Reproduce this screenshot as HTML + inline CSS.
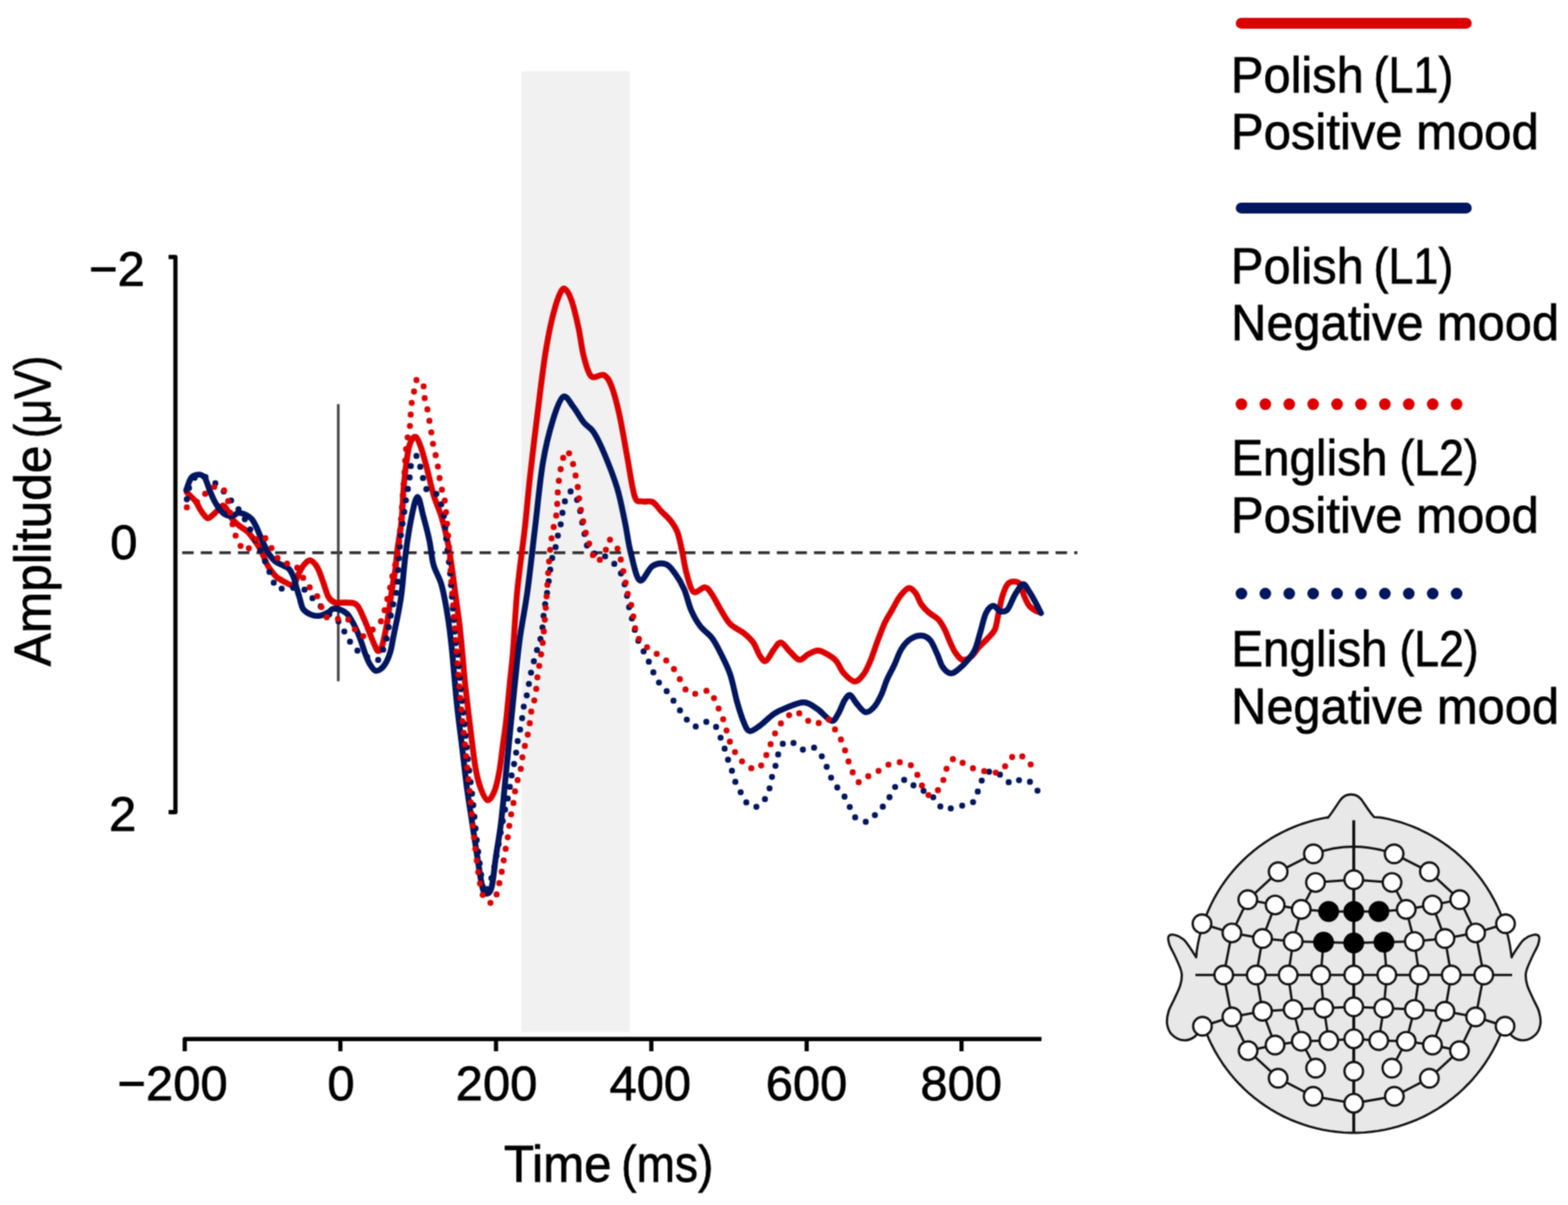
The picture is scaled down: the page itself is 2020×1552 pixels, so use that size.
<!DOCTYPE html>
<html><head><meta charset="utf-8"><title>ERP figure</title><style>html,body{margin:0;padding:0;background:#fff;}svg{display:block;}</style></head><body>
<svg width="2020" height="1552" viewBox="0 0 2020 1552">
<defs><filter id="soft" color-interpolation-filters="sRGB" filterUnits="userSpaceOnUse" x="0" y="0" width="2020" height="1552"><feConvolveMatrix order="3" kernelMatrix="1 2 1 2 4 2 1 2 1" divisor="16" edgeMode="duplicate"/></filter></defs>
<g filter="url(#soft)">
<rect width="2020" height="1552" fill="#fff"/>
<rect x="671.7" y="91.7" width="139.5" height="1237.5" fill="#f1f1f1"/>
<line x1="234.7" y1="711.8" x2="1388" y2="711.8" stroke="#333" stroke-width="3.7" stroke-dasharray="14.8 9.14"/>
<line x1="435.8" y1="520.5" x2="435.8" y2="877.5" stroke="#454545" stroke-width="3.4"/>
<path d="M217.2,331 H226 V1046 H217.2" fill="none" stroke="#000" stroke-width="5.4" stroke-linejoin="round"/>
<path d="M238,1354 V1338.2 H1341.7" fill="none" stroke="#000" stroke-width="5.4" stroke-linejoin="round"/>
<line x1="438.5" y1="1338.2" x2="438.5" y2="1354" stroke="#000" stroke-width="5.4"/>
<line x1="639.0" y1="1338.2" x2="639.0" y2="1354" stroke="#000" stroke-width="5.4"/>
<line x1="839.1" y1="1338.2" x2="839.1" y2="1354" stroke="#000" stroke-width="5.4"/>
<line x1="1039.2" y1="1338.2" x2="1039.2" y2="1354" stroke="#000" stroke-width="5.4"/>
<line x1="1238.7" y1="1338.2" x2="1238.7" y2="1354" stroke="#000" stroke-width="5.4"/>
<path d="M240.7,634.3 C241.6,635.2 244.1,637.5 246.0,639.5 C247.9,641.5 250.3,643.2 252.3,646.0 C254.3,648.8 256.2,653.4 258.1,656.5 C260.0,659.6 262.2,662.7 263.9,664.5 C265.6,666.3 266.8,667.7 268.5,667.5 C270.2,667.3 272.4,664.8 274.3,663.2 C276.2,661.6 277.5,660.0 279.7,658.0 C281.9,656.0 285.1,651.0 287.4,651.0 C289.7,651.0 291.6,655.1 293.5,658.0 C295.4,660.9 296.5,665.0 299.0,668.3 C301.5,671.5 305.4,674.8 308.7,677.5 C312.0,680.2 316.0,682.0 318.9,684.7 C321.8,687.4 323.5,689.9 326.1,693.5 C328.8,697.1 332.6,702.5 334.8,706.4 C337.1,710.3 338.1,713.3 339.6,716.7 C341.2,720.1 342.5,724.0 344.1,727.0 C345.7,730.0 347.2,732.2 349.3,735.0 C351.4,737.8 354.1,741.3 357.0,743.7 C359.9,746.1 363.8,747.9 366.7,749.5 C369.6,751.1 372.3,752.8 374.4,753.4 C376.4,754.0 377.2,755.6 379.0,753.0 C380.8,750.4 383.1,742.2 385.3,737.9 C387.5,733.6 389.6,729.7 392.0,727.0 C394.4,724.3 397.0,721.1 399.8,721.7 C402.6,722.3 406.1,726.2 408.8,730.7 C411.5,735.2 413.6,742.4 416.0,748.8 C418.4,755.2 420.6,764.5 423.2,769.0 C425.8,773.5 428.5,774.9 431.7,776.1 C434.9,777.3 438.5,776.0 442.6,776.1 C446.7,776.2 453.0,776.1 456.1,777.0 C459.2,777.9 459.7,779.0 461.5,781.5 C463.3,784.0 465.1,788.4 466.9,792.3 C468.7,796.2 470.5,800.5 472.3,805.0 C474.1,809.5 476.0,814.9 477.8,819.4 C479.6,823.9 481.7,828.9 483.2,832.1 C484.7,835.3 485.4,838.0 486.8,838.4 C488.2,838.8 490.0,837.7 491.3,834.8 C492.6,831.9 493.7,826.5 494.9,821.2 C496.1,815.9 497.4,809.2 498.5,803.2 C499.6,797.2 500.3,791.1 501.2,785.1 C502.1,779.1 503.0,773.1 503.9,767.1 C504.8,761.1 505.7,754.7 506.6,749.0 C507.5,743.3 508.5,740.0 509.4,733.0 C510.3,726.0 510.8,717.4 512.1,707.0 C513.4,696.6 516.0,683.7 517.3,670.9 C518.6,658.1 518.9,641.8 519.9,630.0 C520.9,618.2 521.7,609.5 523.0,600.0 C524.3,590.5 525.6,579.2 527.6,573.0 C529.6,566.8 532.7,561.8 535.3,562.7 C537.9,563.6 540.4,570.9 543.0,578.2 C545.6,585.5 548.2,596.6 550.8,606.5 C553.4,616.4 555.5,627.5 558.5,637.4 C561.5,647.3 565.8,655.9 568.8,665.8 C571.8,675.7 574.4,686.4 576.5,696.7 C578.6,707.0 580.0,716.0 581.7,727.6 C583.4,739.2 585.1,753.3 586.8,766.2 C588.5,779.1 590.5,791.8 592.0,804.9 C593.5,818.0 594.8,831.9 596.0,845.0 C597.2,858.1 597.8,868.2 599.5,883.8 C601.2,899.4 603.8,921.1 606.0,938.6 C608.2,956.1 610.4,976.2 612.6,989.0 C614.8,1001.8 616.6,1008.3 619.2,1015.3 C621.8,1022.2 625.1,1030.0 628.0,1030.7 C630.9,1031.4 634.2,1025.9 636.7,1019.7 C639.2,1013.5 641.5,1003.3 643.3,993.4 C645.1,983.5 646.2,971.5 647.7,960.5 C649.2,949.5 650.7,940.5 652.1,927.7 C653.5,914.9 655.0,898.4 656.4,883.8 C657.8,869.2 659.1,860.5 660.8,840.0 C662.5,819.5 663.8,787.7 666.4,760.8 C669.0,733.9 673.5,703.2 676.3,678.6 C679.0,654.0 680.2,637.5 682.9,612.9 C685.6,588.2 689.4,557.0 692.7,530.7 C696.0,504.4 699.3,476.0 702.6,455.2 C705.9,434.4 709.1,419.0 712.4,405.9 C715.7,392.8 719.5,381.8 722.3,376.3 C725.0,370.8 726.4,370.8 728.9,373.0 C731.4,375.2 734.4,381.2 737.1,389.4 C739.8,397.6 742.8,410.8 745.3,422.3 C747.8,433.8 749.2,448.0 751.9,458.4 C754.6,468.8 757.3,480.6 761.7,484.7 C766.1,488.8 773.8,480.9 778.2,483.1 C782.6,485.3 784.7,489.4 788.0,497.9 C791.3,506.4 794.6,519.2 797.9,534.0 C801.2,548.8 804.4,569.1 807.7,586.6 C811.0,604.1 814.3,629.3 817.6,639.2 C820.9,649.1 823.7,644.6 827.5,645.8 C831.3,647.0 836.5,644.4 840.6,646.5 C844.7,648.6 848.0,654.5 851.9,658.5 C855.8,662.5 860.2,665.9 863.7,670.4 C867.2,674.9 870.1,678.8 872.6,685.2 C875.1,691.6 876.5,700.0 878.5,708.9 C880.5,717.8 882.0,729.7 884.5,738.6 C887.0,747.5 889.4,759.3 893.4,762.3 C897.4,765.3 904.2,755.9 908.2,756.4 C912.2,756.9 913.7,760.4 917.1,765.3 C920.5,770.2 925.0,779.6 928.9,786.0 C932.8,792.4 935.8,798.8 940.8,803.8 C945.8,808.8 953.7,811.8 958.6,815.7 C963.5,819.7 967.0,822.6 970.4,827.5 C973.8,832.4 976.6,841.3 979.3,845.3 C982.0,849.2 983.8,852.7 986.8,851.2 C989.8,849.7 993.9,840.4 997.1,836.4 C1000.3,832.4 1002.5,827.0 1006.0,827.5 C1009.5,828.0 1013.9,835.7 1017.9,839.4 C1021.9,843.1 1025.8,849.3 1029.7,849.8 C1033.7,850.3 1037.6,844.4 1041.6,842.4 C1045.6,840.4 1049.5,837.9 1053.5,837.9 C1057.5,837.9 1061.3,840.2 1065.3,842.4 C1069.2,844.6 1073.6,847.1 1077.2,851.2 C1080.8,855.3 1083.0,862.6 1087.0,867.0 C1091.0,871.4 1096.7,877.5 1100.9,877.7 C1105.2,878.0 1109.0,873.1 1112.5,868.5 C1116.0,863.9 1118.7,857.2 1121.8,849.9 C1124.9,842.5 1127.9,832.5 1131.0,824.4 C1134.1,816.3 1137.2,807.8 1140.3,801.2 C1143.4,794.6 1146.5,790.4 1149.6,785.0 C1152.7,779.6 1155.4,773.3 1158.9,768.7 C1162.4,764.1 1167.0,758.3 1170.5,757.5 C1174.0,756.7 1177.0,760.7 1179.7,764.1 C1182.4,767.5 1184.0,774.0 1186.7,778.0 C1189.4,782.0 1192.3,785.1 1196.0,788.4 C1199.7,791.7 1205.2,794.0 1208.7,797.7 C1212.2,801.4 1214.4,805.7 1216.9,810.5 C1219.4,815.3 1221.5,821.7 1223.8,826.7 C1226.1,831.7 1228.1,836.7 1230.8,840.6 C1233.5,844.5 1236.5,849.1 1240.0,849.9 C1243.5,850.7 1248.2,848.0 1251.7,845.3 C1255.2,842.6 1257.4,837.6 1260.9,833.7 C1264.4,829.8 1269.0,826.0 1272.5,822.1 C1276.0,818.2 1279.5,815.9 1281.8,810.5 C1284.1,805.1 1284.9,796.6 1286.4,789.6 C1288.0,782.6 1289.2,774.9 1291.1,768.7 C1293.0,762.5 1295.5,755.8 1298.0,752.5 C1300.5,749.2 1303.5,749.0 1306.2,749.0 C1308.9,749.0 1312.2,749.6 1314.3,752.5 C1316.4,755.4 1317.0,761.8 1318.9,766.4 C1320.8,771.0 1323.2,776.8 1325.9,780.3 C1328.6,783.8 1332.9,785.9 1335.2,787.3 C1337.5,788.6 1339.0,788.2 1339.8,788.4" fill="none" stroke="#dc0000" stroke-width="7.6" stroke-linecap="round" stroke-linejoin="round"/>
<path d="M240.0,631.0 C241.1,628.4 243.8,618.4 246.5,615.1 C249.2,611.8 253.5,611.3 256.3,611.2 C259.1,611.1 261.6,612.8 263.3,614.6 C265.1,616.4 265.6,619.2 266.8,622.1 C268.0,625.0 268.9,628.4 270.3,632.0 C271.8,635.6 273.9,640.5 275.5,643.8 C277.1,647.0 278.6,649.4 279.9,651.5 C281.2,653.6 282.0,655.0 283.5,656.7 C285.0,658.4 286.7,660.6 288.7,661.9 C290.7,663.2 293.3,664.2 295.4,664.6 C297.4,665.0 299.0,664.7 301.0,664.0 C303.0,663.3 304.8,660.7 307.4,660.5 C310.0,660.3 313.6,661.7 316.4,663.0 C319.2,664.3 321.9,665.8 324.1,668.3 C326.4,670.8 328.0,674.1 329.9,678.0 C331.8,681.9 333.8,687.1 335.7,691.5 C337.6,695.9 339.6,700.2 341.5,704.1 C343.4,708.0 345.0,711.5 347.3,714.7 C349.6,717.9 352.2,721.1 355.1,723.4 C358.0,725.7 361.8,726.7 364.7,728.3 C367.6,729.9 370.2,730.5 372.5,733.1 C374.8,735.7 376.7,739.7 378.3,743.7 C379.9,747.7 380.8,752.9 382.1,757.3 C383.4,761.7 384.6,765.4 386.0,770.0 C387.4,774.6 388.2,781.1 390.8,784.8 C393.4,788.5 398.0,790.6 401.6,792.0 C405.2,793.4 408.8,793.6 412.4,793.0 C416.0,792.4 420.4,790.0 423.2,788.5 C426.0,787.0 426.5,784.8 429.0,784.2 C431.5,783.6 435.0,784.1 438.0,785.1 C441.0,786.1 444.4,787.8 447.1,790.5 C449.8,793.2 452.2,797.8 454.3,801.4 C456.4,805.0 457.9,808.2 459.7,812.2 C461.5,816.2 463.3,820.7 465.1,825.7 C466.9,830.7 468.7,837.2 470.5,842.0 C472.3,846.8 473.9,851.0 476.0,854.6 C478.1,858.2 480.8,862.4 483.2,863.6 C485.6,864.8 488.0,863.6 490.4,861.8 C492.8,860.0 495.5,856.5 497.6,852.8 C499.7,849.0 501.5,844.6 503.0,839.3 C504.5,834.0 505.4,827.2 506.6,821.2 C507.8,815.2 509.1,809.2 510.3,803.2 C511.5,797.2 512.7,791.9 513.9,785.1 C515.1,778.3 516.1,774.3 517.5,762.6 C518.9,750.9 520.3,730.8 522.4,714.7 C524.5,698.6 527.6,678.2 530.2,665.8 C532.8,653.3 535.3,640.0 537.9,640.0 C540.5,640.0 543.0,656.3 545.6,665.8 C548.2,675.2 551.1,686.4 553.3,696.7 C555.4,707.0 555.9,718.2 558.5,727.6 C561.1,737.0 565.8,742.7 568.8,753.4 C571.8,764.1 574.3,778.4 576.5,792.0 C578.7,805.6 580.0,816.0 582.0,835.0 C584.0,854.0 586.3,884.9 588.5,905.8 C590.7,926.7 592.9,942.2 595.1,960.5 C597.3,978.8 599.4,998.8 601.6,1015.3 C603.8,1031.8 606.0,1044.6 608.2,1059.2 C610.4,1073.8 612.6,1089.1 614.8,1103.0 C617.0,1116.9 619.4,1134.5 621.4,1142.5 C623.4,1150.5 624.8,1151.2 626.8,1151.2 C628.8,1151.2 631.4,1150.5 633.4,1142.5 C635.4,1134.5 636.9,1116.9 638.9,1103.0 C640.9,1089.1 643.3,1077.5 645.5,1059.2 C647.7,1040.9 649.9,1015.3 652.1,993.4 C654.3,971.5 656.6,947.8 658.6,927.7 C660.6,907.6 662.2,890.9 664.1,872.9 C666.0,854.9 667.4,838.7 670.0,820.0 C672.6,801.3 676.4,784.4 679.6,760.8 C682.8,737.2 686.1,706.0 689.4,678.6 C692.7,651.2 695.5,619.5 699.3,596.5 C703.1,573.5 708.0,554.9 712.4,540.6 C716.8,526.4 721.2,513.7 725.6,511.0 C730.0,508.3 734.3,518.7 738.7,524.2 C743.1,529.7 747.5,538.4 751.9,543.9 C756.3,549.4 760.4,549.9 765.0,557.0 C769.6,564.1 774.5,574.6 779.5,586.6 C784.5,598.6 791.0,615.1 795.3,629.3 C799.5,643.5 802.1,658.3 805.0,672.0 C807.9,685.7 809.3,698.9 812.5,711.5 C815.7,724.1 819.5,744.7 824.2,747.6 C828.9,750.5 835.0,732.5 840.6,729.0 C846.2,725.5 853.0,725.1 857.8,726.7 C862.6,728.3 865.6,733.2 869.6,738.6 C873.6,744.0 878.0,751.4 881.5,759.3 C885.0,767.2 886.9,778.1 890.4,786.0 C893.9,793.9 897.8,800.9 902.3,806.8 C906.8,812.7 912.7,815.7 917.1,821.6 C921.5,827.5 925.0,834.5 928.9,842.4 C932.8,850.3 937.3,858.6 940.8,869.0 C944.3,879.4 946.7,894.2 949.7,904.6 C952.7,915.0 955.9,925.1 958.6,931.3 C961.3,937.5 962.5,941.2 966.0,941.7 C969.5,942.2 974.1,938.0 979.3,934.3 C984.5,930.6 991.6,923.1 997.1,919.4 C1002.6,915.7 1005.6,914.5 1012.0,912.0 C1018.4,909.5 1028.8,904.4 1035.7,904.6 C1042.6,904.9 1047.6,909.5 1053.5,913.5 C1059.4,917.5 1066.8,927.4 1071.2,928.3 C1075.6,929.2 1077.2,923.4 1080.0,919.0 C1082.8,914.6 1085.5,906.0 1088.0,902.0 C1090.5,898.0 1092.6,894.5 1095.1,895.1 C1097.6,895.7 1099.9,901.9 1103.2,905.6 C1106.5,909.3 1110.9,916.4 1114.8,917.2 C1118.7,918.0 1122.9,914.1 1126.4,910.2 C1129.9,906.3 1133.0,899.8 1135.7,894.0 C1138.4,888.2 1139.9,881.6 1142.6,875.4 C1145.3,869.2 1148.8,863.5 1151.9,856.9 C1155.0,850.3 1157.7,841.6 1161.2,836.0 C1164.7,830.4 1168.5,826.1 1172.8,823.2 C1177.0,820.3 1182.5,818.4 1186.7,818.6 C1191.0,818.8 1194.8,820.4 1198.3,824.4 C1201.8,828.4 1204.9,837.1 1207.6,842.9 C1210.3,848.7 1211.6,855.1 1214.5,859.2 C1217.4,863.3 1221.5,866.9 1225.0,867.3 C1228.5,867.7 1231.7,864.4 1235.4,861.5 C1239.1,858.6 1243.5,854.1 1247.0,849.9 C1250.5,845.6 1253.6,842.2 1256.3,836.0 C1259.0,829.8 1261.0,820.5 1263.3,812.8 C1265.6,805.1 1267.5,795.0 1270.2,789.6 C1272.9,784.2 1276.4,780.7 1279.5,780.3 C1282.6,779.9 1285.7,786.5 1288.8,787.3 C1291.9,788.1 1294.9,788.5 1298.0,785.0 C1301.1,781.5 1304.0,771.8 1307.3,766.4 C1310.6,761.0 1314.7,753.3 1317.8,752.5 C1320.9,751.7 1323.0,757.5 1325.9,761.8 C1328.8,766.0 1332.7,773.4 1335.2,778.0 C1337.7,782.6 1340.0,787.7 1341.0,789.6" fill="none" stroke="#00165e" stroke-width="7.6" stroke-linecap="round" stroke-linejoin="round"/>
<path d="M240.7,643.0 C241.1,640.8 241.6,634.3 243.0,630.0 C244.4,625.7 246.5,619.9 249.0,617.0 C251.5,614.1 254.8,612.7 258.0,612.5 C261.2,612.3 264.6,614.2 268.0,616.0 C271.4,617.8 274.8,620.2 278.4,623.2 C282.0,626.2 285.9,630.4 289.4,634.3 C292.9,638.2 296.1,642.6 299.2,646.4 C302.3,650.2 305.1,652.9 308.0,657.0 C310.9,661.1 314.1,666.5 316.8,671.2 C319.5,675.9 321.6,680.2 324.0,685.0 C326.4,689.8 328.7,695.0 331.0,700.0 C333.3,705.0 335.8,710.0 338.0,715.0 C340.2,720.0 342.4,725.4 344.4,730.2 C346.4,735.0 348.1,739.0 350.2,743.7 C352.3,748.4 353.8,756.1 357.0,758.2 C360.2,760.3 365.7,756.4 369.6,756.3 C373.5,756.2 376.8,757.0 380.5,757.5 C384.2,758.0 388.1,757.1 391.8,759.2 C395.5,761.4 399.1,766.9 402.5,770.4 C405.9,773.9 408.8,776.9 412.4,780.3 C416.0,783.7 420.0,787.6 424.0,791.0 C428.0,794.4 432.8,796.5 436.2,800.5 C439.6,804.5 441.8,810.3 444.4,814.9 C447.0,819.5 449.1,823.9 452.0,828.0 C454.9,832.1 458.2,836.1 462.0,839.3 C465.8,842.5 470.7,845.3 475.0,847.0 C479.3,848.7 484.5,851.6 487.7,849.7 C490.9,847.8 492.2,840.6 494.0,835.7 C495.8,830.8 497.3,825.4 498.5,820.3 C499.7,815.2 500.3,810.0 501.2,805.0 C502.1,800.0 503.0,794.9 503.9,790.5 C504.8,786.1 505.5,783.0 506.6,778.8 C507.7,774.6 509.4,769.2 510.3,765.3 C511.2,761.4 511.7,760.3 512.1,755.3 C512.6,750.2 512.5,743.4 513.0,735.0 C513.5,726.6 514.3,713.3 515.0,705.0 C515.7,696.7 516.2,691.5 517.0,685.0 C517.8,678.5 519.0,672.0 519.9,665.8 C520.8,659.6 521.5,653.3 522.4,647.7 C523.2,642.1 524.1,637.4 525.0,632.3 C525.9,627.1 527.0,621.9 527.6,616.8 C528.2,611.6 527.4,606.3 528.9,601.4 C530.4,596.5 534.5,587.0 536.6,587.2 C538.8,587.4 540.3,597.6 541.8,602.7 C543.3,607.9 544.1,613.2 545.6,618.1 C547.1,623.0 548.0,629.3 550.8,632.3 C553.6,635.3 559.4,633.2 562.4,636.2 C565.4,639.2 567.1,644.9 568.8,650.3 C570.5,655.7 571.8,662.8 572.7,668.4 C573.6,674.0 573.6,678.9 574.0,683.8 C574.4,688.7 574.4,690.3 575.2,698.0 C576.1,705.7 578.2,722.3 579.1,730.2 C580.0,738.1 580.0,740.5 580.4,745.6 C580.8,750.8 581.3,755.5 581.7,761.1 C582.1,766.7 582.6,773.5 583.0,779.1 C583.4,784.7 583.9,789.5 584.3,794.6 C584.7,799.8 585.1,804.9 585.5,810.0 C585.9,815.1 586.1,820.4 586.8,825.5 C587.4,830.6 588.8,835.8 589.4,840.9 C590.0,846.0 590.1,849.9 590.7,856.4 C591.3,862.9 591.8,867.7 593.0,880.0 C594.2,892.3 596.3,913.3 598.0,930.0 C599.7,946.7 601.2,963.3 603.0,980.0 C604.8,996.7 607.2,1013.3 609.0,1030.0 C610.8,1046.7 612.3,1065.0 614.0,1080.0 C615.7,1095.0 617.4,1108.5 619.0,1120.0 C620.6,1131.5 621.8,1145.7 623.6,1149.0 C625.4,1152.3 627.9,1144.8 630.0,1140.0 C632.1,1135.2 634.1,1127.6 636.0,1120.0 C637.9,1112.4 639.3,1103.6 641.1,1094.2 C642.9,1084.8 645.1,1071.6 646.6,1063.6 C648.1,1055.6 648.8,1051.1 649.9,1046.0 C651.0,1040.9 652.1,1037.8 653.2,1032.9 C654.3,1028.0 655.5,1021.7 656.4,1016.4 C657.3,1011.1 657.7,1006.2 658.6,1001.1 C659.5,996.0 660.9,990.9 661.9,985.8 C662.9,980.7 663.9,975.7 664.8,970.4 C665.6,965.1 666.1,959.3 667.0,954.0 C667.9,948.7 669.2,943.7 670.2,938.6 C671.2,933.5 672.1,928.4 672.9,923.3 C673.7,918.2 674.0,913.1 675.1,907.9 C676.2,902.7 678.3,897.5 679.5,892.2 C680.7,886.9 681.1,881.5 682.1,876.2 C683.1,870.9 684.0,866.5 685.5,860.4 C687.0,854.3 689.1,846.9 691.1,839.6 C693.1,832.3 696.1,825.4 697.7,816.6 C699.3,807.9 699.8,795.3 700.9,787.1 C702.0,778.9 703.1,774.5 704.2,767.4 C705.3,760.3 706.4,752.1 707.5,744.4 C708.6,736.7 709.4,727.9 710.8,721.3 C712.2,714.7 714.3,710.4 715.7,704.9 C717.1,699.4 717.9,693.4 719.0,688.5 C720.1,683.6 721.3,680.2 722.3,675.3 C723.3,670.4 723.8,664.4 724.9,658.9 C726.0,653.4 726.9,646.9 728.9,642.5 C730.9,638.1 734.4,631.5 737.1,632.6 C739.8,633.7 743.4,643.5 745.3,649.0 C747.2,654.5 747.5,660.0 748.6,665.5 C749.7,671.0 750.8,676.4 751.9,681.9 C753.0,687.4 754.1,693.9 755.2,698.3 C756.3,702.7 756.5,705.7 758.4,708.2 C760.3,710.7 764.2,712.3 766.7,713.1 C769.2,713.9 770.8,712.3 773.2,713.1 C775.7,713.9 778.1,715.5 781.4,718.0 C784.7,720.5 789.6,723.9 793.0,727.9 C796.4,731.9 799.5,737.1 801.6,742.0 C803.7,746.9 804.5,752.3 805.7,757.5 C806.9,762.7 807.9,767.9 808.9,773.0 C809.9,778.1 810.4,782.9 811.6,788.0 C812.8,793.1 814.8,798.3 816.1,803.5 C817.5,808.7 818.0,814.0 819.7,819.0 C821.4,824.0 824.1,828.9 826.4,833.5 C828.6,838.1 831.2,842.6 833.2,846.7 C835.2,850.8 836.5,853.3 838.6,858.0 C840.7,862.7 843.0,870.2 845.9,875.0 C848.8,879.8 852.9,882.6 856.3,886.8 C859.7,891.0 863.0,895.8 866.1,900.2 C869.2,904.7 872.1,909.3 875.0,913.5 C877.9,917.7 880.3,921.7 883.6,925.4 C886.9,929.1 890.7,935.0 894.8,935.7 C898.9,936.4 904.0,930.3 908.2,929.8 C912.4,929.3 916.9,930.1 920.0,932.8 C923.1,935.5 924.5,941.4 926.6,946.1 C928.7,950.8 930.8,956.0 932.5,961.0 C934.2,966.0 935.4,970.9 937.0,975.8 C938.6,980.7 940.7,985.7 942.3,990.6 C943.9,995.5 944.7,1000.5 946.7,1005.4 C948.7,1010.3 951.6,1015.5 954.1,1020.2 C956.6,1024.9 958.5,1030.4 961.6,1033.6 C964.7,1036.8 969.0,1040.0 972.8,1039.5 C976.6,1039.0 981.3,1034.5 984.4,1030.6 C987.5,1026.6 989.5,1021.0 991.2,1015.8 C992.9,1010.6 993.4,1004.7 994.8,999.5 C996.2,994.3 998.1,989.7 999.5,984.7 C1000.9,979.8 1001.4,974.5 1003.1,969.8 C1004.8,965.1 1006.9,958.7 1009.9,956.5 C1012.9,954.3 1017.5,955.0 1021.4,956.5 C1025.3,958.0 1029.2,964.4 1033.6,965.4 C1037.9,966.4 1043.5,961.2 1047.5,962.4 C1051.5,963.6 1055.1,968.8 1057.9,972.8 C1060.7,976.8 1062.3,981.4 1064.4,986.1 C1066.5,990.8 1068.0,996.3 1070.4,1001.0 C1072.8,1005.7 1075.8,1010.1 1078.7,1014.3 C1081.7,1018.5 1085.4,1021.9 1088.1,1026.2 C1090.8,1030.5 1092.7,1035.5 1095.1,1040.1 C1097.5,1044.7 1099.0,1050.6 1102.7,1053.6 C1106.4,1056.6 1112.8,1059.1 1117.1,1058.2 C1121.4,1057.3 1125.0,1051.8 1128.7,1048.2 C1132.4,1044.6 1136.0,1040.6 1139.2,1036.6 C1142.4,1032.5 1144.9,1028.3 1147.7,1023.9 C1150.5,1019.5 1152.4,1013.3 1155.9,1010.0 C1159.4,1006.7 1164.8,1003.4 1168.8,1004.2 C1172.8,1005.0 1176.0,1011.9 1180.2,1014.6 C1184.4,1017.3 1189.5,1017.9 1193.7,1020.4 C1197.9,1022.9 1201.8,1026.1 1205.3,1029.7 C1208.8,1033.3 1211.1,1040.3 1215.0,1042.0 C1218.9,1043.7 1224.2,1041.0 1228.9,1040.1 C1233.6,1039.2 1238.8,1037.9 1243.1,1036.6 C1247.4,1035.2 1251.8,1035.3 1254.7,1032.0 C1257.6,1028.7 1258.6,1021.8 1260.5,1016.9 C1262.4,1012.0 1263.6,1006.5 1266.3,1002.5 C1269.0,998.5 1272.6,993.7 1276.7,993.2 C1280.8,992.7 1286.7,996.8 1291.1,999.5 C1295.5,1002.2 1298.8,1008.6 1303.1,1009.3 C1307.3,1010.0 1312.2,1003.6 1316.6,1003.5 C1321.0,1003.4 1325.7,1005.8 1329.4,1008.8 C1333.1,1011.8 1337.1,1019.5 1338.6,1021.6" fill="none" stroke="#00165e" stroke-width="7.8" stroke-linecap="round" stroke-dasharray="0 15"/>
<path d="M240.7,653.4 C242.1,652.8 245.7,652.0 249.0,650.0 C252.3,648.0 256.9,644.6 260.3,641.2 C263.7,637.9 265.7,632.3 269.6,629.9 C273.6,627.5 280.2,625.2 284.0,626.8 C287.8,628.3 290.2,633.7 292.3,639.2 C294.4,644.7 294.9,652.4 296.5,660.0 C298.1,667.6 300.0,678.1 301.9,684.7 C303.8,691.3 305.6,695.6 308.0,699.7 C310.4,703.8 313.3,709.6 316.3,709.5 C319.3,709.4 322.6,702.4 326.0,699.0 C329.4,695.6 333.4,689.2 336.9,689.4 C340.3,689.6 343.9,696.2 346.7,700.2 C349.5,704.2 351.0,709.5 353.9,713.6 C356.8,717.7 360.0,722.8 364.2,725.0 C368.4,727.2 375.0,724.6 379.0,727.1 C383.0,729.6 385.1,735.6 388.0,740.0 C390.9,744.4 393.0,749.1 396.2,753.3 C399.4,757.5 404.2,760.7 407.0,765.0 C409.8,769.3 410.9,774.2 413.0,779.0 C415.1,783.8 416.4,790.8 419.6,793.9 C422.8,797.0 427.7,797.6 432.0,797.8 C436.3,798.0 441.4,793.4 445.3,795.0 C449.2,796.6 451.9,803.6 455.2,807.7 C458.5,811.8 461.6,818.4 465.1,819.4 C468.6,820.4 471.9,816.9 476.0,814.0 C480.1,811.1 486.4,806.7 489.5,802.3 C492.6,797.9 493.4,792.6 494.9,787.8 C496.4,783.0 497.1,778.9 498.5,773.4 C499.9,767.9 501.6,761.4 503.0,755.0 C504.4,748.6 505.5,741.7 507.0,735.0 C508.5,728.3 510.6,724.5 512.1,714.7 C513.6,704.9 514.7,691.0 516.0,676.0 C517.3,661.0 518.6,641.8 519.9,624.6 C521.2,607.4 522.4,585.0 523.7,573.0 C525.0,561.0 526.7,558.4 527.6,552.4 C528.5,546.4 528.5,542.4 528.9,537.0 C529.3,531.6 529.5,525.6 530.2,520.2 C530.9,514.8 532.2,510.0 533.3,504.8 C534.4,499.6 535.3,491.8 536.6,489.3 C537.9,486.8 539.5,488.7 541.0,490.0 C542.5,491.3 544.6,493.0 545.6,497.0 C546.6,501.0 546.3,508.4 547.2,513.8 C548.1,519.2 550.0,524.1 551.1,529.2 C552.2,534.4 552.8,539.5 553.6,544.7 C554.5,549.9 555.4,555.1 556.2,560.2 C557.0,565.4 557.5,570.5 558.5,575.6 C559.5,580.8 561.3,586.0 562.4,591.1 C563.5,596.2 564.1,601.1 565.0,606.5 C565.9,611.9 566.4,617.9 567.5,623.3 C568.6,628.7 570.3,633.8 571.4,638.7 C572.5,643.6 572.7,640.7 574.0,652.9 C575.3,665.1 577.8,695.4 579.1,712.1 C580.4,728.9 580.6,737.9 581.7,753.4 C582.8,768.9 584.2,787.7 585.5,804.9 C586.8,822.1 588.0,838.9 589.4,856.4 C590.8,873.9 592.2,891.1 594.0,910.0 C595.8,928.9 598.0,950.0 600.0,970.0 C602.0,990.0 604.0,1010.0 606.0,1030.0 C608.0,1050.0 609.8,1071.2 612.0,1090.0 C614.2,1108.8 616.9,1131.0 619.2,1142.5 C621.5,1154.0 623.1,1155.6 625.8,1158.9 C628.5,1162.2 633.0,1164.2 635.6,1162.2 C638.2,1160.2 639.6,1151.9 641.1,1146.8 C642.6,1141.7 643.3,1136.7 644.4,1131.6 C645.5,1126.5 646.8,1121.1 647.7,1116.0 C648.6,1110.9 649.0,1106.1 649.9,1100.8 C650.8,1095.5 652.3,1089.7 653.2,1084.4 C654.1,1079.1 654.7,1074.1 655.4,1069.0 C656.1,1063.9 656.6,1058.8 657.5,1053.7 C658.4,1048.6 659.9,1043.7 660.8,1038.4 C661.7,1033.1 662.1,1027.3 663.0,1022.0 C663.9,1016.7 665.0,1011.7 666.3,1006.6 C667.6,1001.5 669.6,996.3 670.7,991.2 C671.8,986.1 672.0,981.0 672.9,975.9 C673.8,970.8 675.0,965.6 676.2,960.5 C677.4,955.4 679.0,950.3 680.1,945.2 C681.2,940.1 681.9,935.2 682.7,929.9 C683.5,924.6 683.8,918.7 684.9,913.4 C686.0,908.1 688.2,903.4 689.3,898.1 C690.4,892.8 690.9,886.9 691.5,881.6 C692.1,876.3 692.2,871.6 693.0,866.3 C693.8,861.0 694.8,857.4 696.0,849.7 C697.2,842.0 698.7,833.3 700.0,820.0 C701.3,806.7 702.8,786.5 704.0,770.0 C705.2,753.5 706.4,734.3 707.5,721.3 C708.6,708.3 709.7,699.4 710.8,691.8 C711.9,684.1 712.9,680.9 714.0,675.4 C715.1,669.9 716.7,664.4 717.4,658.9 C718.1,653.4 717.7,647.4 718.0,642.5 C718.3,637.6 718.5,634.2 719.0,629.3 C719.5,624.4 719.9,618.4 720.7,612.9 C721.5,607.4 722.8,601.7 724.0,596.5 C725.2,591.3 726.6,584.0 727.9,581.7 C729.2,579.5 730.6,581.9 732.0,583.0 C733.4,584.1 734.9,585.0 736.1,588.3 C737.3,591.6 738.2,597.8 739.4,603.0 C740.5,608.2 742.0,614.3 743.0,619.5 C744.0,624.7 744.6,629.4 745.3,634.3 C745.9,639.2 746.1,643.8 746.9,649.0 C747.7,654.2 749.1,660.0 750.2,665.5 C751.3,671.0 752.1,676.4 753.5,681.9 C754.9,687.4 755.9,691.4 758.4,698.3 C760.9,705.1 764.7,721.1 768.3,723.0 C771.9,724.9 777.1,714.5 779.8,709.8 C782.5,705.1 782.2,695.8 784.7,695.0 C787.2,694.2 792.1,700.8 794.6,704.9 C797.1,709.0 797.6,712.0 799.5,719.7 C801.4,727.4 804.5,743.0 806.1,750.9 C807.8,758.8 808.0,761.9 809.4,767.4 C810.8,772.9 812.7,776.1 814.3,783.8 C815.9,791.5 817.3,806.3 819.2,813.4 C821.1,820.5 822.8,822.7 825.8,826.5 C828.8,830.3 833.2,833.3 837.3,836.4 C841.4,839.5 846.4,842.0 850.5,845.0 C854.6,848.0 858.8,850.7 862.2,854.2 C865.6,857.7 868.4,861.9 871.1,866.1 C873.8,870.3 875.8,875.0 878.5,879.4 C881.2,883.8 883.7,890.6 887.4,892.8 C891.1,895.0 896.3,893.3 900.8,892.8 C905.2,892.3 910.6,888.1 914.1,889.8 C917.6,891.5 919.3,898.6 921.5,903.1 C923.7,907.6 925.5,911.8 927.5,916.5 C929.5,921.2 931.7,926.1 933.4,931.3 C935.1,936.5 936.2,942.4 937.8,947.6 C939.4,952.8 941.0,958.0 943.2,962.4 C945.4,966.8 948.1,970.3 951.2,974.3 C954.3,978.2 957.5,983.4 961.6,986.1 C965.7,988.8 972.0,991.8 975.8,990.6 C979.6,989.4 981.9,983.2 984.4,978.7 C986.9,974.2 988.6,968.8 990.6,963.9 C992.6,959.0 994.4,953.8 996.5,949.1 C998.6,944.4 1000.3,939.9 1003.1,935.7 C1005.9,931.5 1009.7,927.1 1013.4,923.9 C1017.1,920.7 1021.3,916.2 1025.3,916.5 C1029.3,916.8 1033.0,922.7 1037.2,925.4 C1041.4,928.1 1045.8,932.8 1050.5,932.8 C1055.2,932.8 1061.3,924.7 1065.3,925.4 C1069.2,926.1 1071.3,933.0 1074.2,937.2 C1077.1,941.4 1080.2,946.0 1082.5,950.6 C1084.8,955.2 1086.4,959.8 1088.1,964.7 C1089.8,969.6 1091.0,974.8 1092.8,979.8 C1094.5,984.8 1096.3,990.3 1098.6,994.9 C1100.9,999.5 1103.3,1006.8 1106.7,1007.6 C1110.1,1008.4 1114.8,1002.0 1119.0,999.5 C1123.2,997.0 1127.8,995.1 1132.2,992.6 C1136.6,990.1 1141.0,986.2 1145.6,984.4 C1150.2,982.6 1154.9,981.5 1159.6,981.7 C1164.2,981.9 1169.8,982.8 1173.5,985.6 C1177.2,988.4 1179.6,993.8 1182.1,998.4 C1184.6,1003.0 1185.9,1009.0 1188.6,1013.4 C1191.3,1017.8 1194.8,1024.5 1198.3,1025.0 C1201.8,1025.5 1206.4,1020.3 1209.4,1016.4 C1212.4,1012.5 1214.5,1006.7 1216.4,1001.8 C1218.3,996.9 1218.4,991.0 1220.8,986.8 C1223.2,982.5 1227.0,976.6 1230.8,976.3 C1234.6,976.0 1239.0,982.5 1243.5,984.9 C1248.0,987.3 1252.7,989.4 1257.5,990.9 C1262.3,992.4 1267.3,993.1 1272.1,993.7 C1276.9,994.3 1282.1,996.1 1286.4,994.4 C1290.7,992.7 1294.4,987.1 1298.0,983.3 C1301.6,979.5 1304.1,972.9 1307.8,971.7 C1311.5,970.5 1316.3,973.6 1320.1,976.3 C1323.9,979.0 1328.3,985.5 1330.5,987.9 C1332.7,990.3 1332.6,990.1 1333.0,990.5" fill="none" stroke="#dc0000" stroke-width="7.8" stroke-linecap="round" stroke-dasharray="0 15"/>
<text x="114.8" y="368.4" font-size="63.0" text-anchor="start" font-family="'Liberation Sans', Arial, Helvetica, sans-serif" fill="#000" stroke="#000" stroke-width="0.9" >−2</text>
<text x="141.9" y="720.0" font-size="63.0" text-anchor="start" font-family="'Liberation Sans', Arial, Helvetica, sans-serif" fill="#000" stroke="#000" stroke-width="0.9" >0</text>
<text x="140.4" y="1070.4" font-size="63.0" text-anchor="start" font-family="'Liberation Sans', Arial, Helvetica, sans-serif" fill="#000" stroke="#000" stroke-width="0.9" >2</text>
<text x="151.3" y="1416.6" font-size="63.0" text-anchor="start" font-family="'Liberation Sans', Arial, Helvetica, sans-serif" fill="#000" stroke="#000" stroke-width="0.9" >−200</text>
<text x="421.8" y="1416.6" font-size="63.0" text-anchor="start" font-family="'Liberation Sans', Arial, Helvetica, sans-serif" fill="#000" stroke="#000" stroke-width="0.9" >0</text>
<text x="587.1" y="1416.6" font-size="63.0" text-anchor="start" font-family="'Liberation Sans', Arial, Helvetica, sans-serif" fill="#000" stroke="#000" stroke-width="0.9" >200</text>
<text x="785.3" y="1416.6" font-size="63.0" text-anchor="start" font-family="'Liberation Sans', Arial, Helvetica, sans-serif" fill="#000" stroke="#000" stroke-width="0.9" >400</text>
<text x="986.4" y="1416.6" font-size="63.0" text-anchor="start" font-family="'Liberation Sans', Arial, Helvetica, sans-serif" fill="#000" stroke="#000" stroke-width="0.9" >600</text>
<text x="1185.8" y="1416.6" font-size="63.0" text-anchor="start" font-family="'Liberation Sans', Arial, Helvetica, sans-serif" fill="#000" stroke="#000" stroke-width="0.9" >800</text>
<text x="649.14" y="1522.40" font-size="66.0" font-family="'Liberation Sans', Arial, Helvetica, sans-serif" fill="#000" stroke="#000" stroke-width="0.9" textLength="138.76" lengthAdjust="spacingAndGlyphs" >Time</text>
<text x="800.20" y="1522.40" font-size="66.0" font-family="'Liberation Sans', Arial, Helvetica, sans-serif" fill="#000" stroke="#000" stroke-width="0.9" textLength="118.74" lengthAdjust="spacingAndGlyphs" >(ms)</text>
<g transform="translate(65.2,858.2) rotate(-90)">
<text x="0.00" y="0.00" font-size="66.0" font-family="'Liberation Sans', Arial, Helvetica, sans-serif" fill="#000" stroke="#000" stroke-width="0.9" textLength="284.29" lengthAdjust="spacingAndGlyphs" >Amplitude</text>
<text x="293.63" y="0.00" font-size="66.0" font-family="'Liberation Sans', Arial, Helvetica, sans-serif" fill="#000" stroke="#000" stroke-width="0.9" textLength="106.26" lengthAdjust="spacingAndGlyphs" >(μV)</text>
</g>
<line x1="1599" y1="29.9" x2="1889" y2="29.9" stroke="#dc0000" stroke-width="14" stroke-linecap="round"/>
<line x1="1599" y1="267.9" x2="1889" y2="267.9" stroke="#00165e" stroke-width="14" stroke-linecap="round"/>
<line x1="1599.3" y1="520.6" x2="1877" y2="520.6" stroke="#dc0000" stroke-width="15" stroke-linecap="round" stroke-dasharray="0 30.8"/>
<line x1="1599.3" y1="764.5" x2="1877" y2="764.5" stroke="#00165e" stroke-width="15" stroke-linecap="round" stroke-dasharray="0 30.8"/>
<text x="1585.87" y="119.20" font-size="65.0" font-family="'Liberation Sans', Arial, Helvetica, sans-serif" fill="#000" stroke="#000" stroke-width="0.9" textLength="171.04" lengthAdjust="spacingAndGlyphs" >Polish</text>
<text x="1769.44" y="119.20" font-size="65.0" font-family="'Liberation Sans', Arial, Helvetica, sans-serif" fill="#000" stroke="#000" stroke-width="0.9" textLength="102.75" lengthAdjust="spacingAndGlyphs" >(L1)</text>
<text x="1585.84" y="192.40" font-size="65.0" font-family="'Liberation Sans', Arial, Helvetica, sans-serif" fill="#000" stroke="#000" stroke-width="0.9" textLength="396.48" lengthAdjust="spacingAndGlyphs" >Positive mood</text>
<text x="1585.87" y="364.90" font-size="65.0" font-family="'Liberation Sans', Arial, Helvetica, sans-serif" fill="#000" stroke="#000" stroke-width="0.9" textLength="171.04" lengthAdjust="spacingAndGlyphs" >Polish</text>
<text x="1769.44" y="364.90" font-size="65.0" font-family="'Liberation Sans', Arial, Helvetica, sans-serif" fill="#000" stroke="#000" stroke-width="0.9" textLength="102.75" lengthAdjust="spacingAndGlyphs" >(L1)</text>
<text x="1586.07" y="438.30" font-size="65.0" font-family="'Liberation Sans', Arial, Helvetica, sans-serif" fill="#000" stroke="#000" stroke-width="0.9" textLength="422.29" lengthAdjust="spacingAndGlyphs" >Negative mood</text>
<text x="1586.18" y="611.60" font-size="65.0" font-family="'Liberation Sans', Arial, Helvetica, sans-serif" fill="#000" stroke="#000" stroke-width="0.9" textLength="201.27" lengthAdjust="spacingAndGlyphs" >English</text>
<text x="1802.97" y="611.60" font-size="65.0" font-family="'Liberation Sans', Arial, Helvetica, sans-serif" fill="#000" stroke="#000" stroke-width="0.9" textLength="101.89" lengthAdjust="spacingAndGlyphs" >(L2)</text>
<text x="1585.84" y="685.50" font-size="65.0" font-family="'Liberation Sans', Arial, Helvetica, sans-serif" fill="#000" stroke="#000" stroke-width="0.9" textLength="396.48" lengthAdjust="spacingAndGlyphs" >Positive mood</text>
<text x="1586.18" y="858.20" font-size="65.0" font-family="'Liberation Sans', Arial, Helvetica, sans-serif" fill="#000" stroke="#000" stroke-width="0.9" textLength="201.27" lengthAdjust="spacingAndGlyphs" >English</text>
<text x="1802.97" y="858.20" font-size="65.0" font-family="'Liberation Sans', Arial, Helvetica, sans-serif" fill="#000" stroke="#000" stroke-width="0.9" textLength="101.89" lengthAdjust="spacingAndGlyphs" >(L2)</text>
<text x="1586.07" y="931.80" font-size="65.0" font-family="'Liberation Sans', Arial, Helvetica, sans-serif" fill="#000" stroke="#000" stroke-width="0.9" textLength="422.29" lengthAdjust="spacingAndGlyphs" >Negative mood</text>
<path d="M1710.7,1053.2 C1716,1047 1722,1037 1727,1030 C1732,1024 1736,1023 1740.5,1023.3 C1745,1023 1749,1024 1754,1030 C1759,1037 1765,1047 1770.3,1052.4 L1779.1,1053.0 L1787.7,1054.7 L1796.3,1056.8 L1804.8,1059.2 L1813.1,1062.0 L1821.4,1065.2 L1829.4,1068.7 L1837.4,1072.6 L1845.1,1076.8 L1852.7,1081.3 L1860.0,1086.1 L1867.2,1091.3 L1874.1,1096.7 L1880.8,1102.5 L1887.2,1108.5 L1893.4,1114.8 L1899.2,1121.4 L1904.8,1128.2 L1910.1,1135.2 L1915.1,1142.5 L1919.8,1150.0 L1924.1,1157.7 L1928.1,1165.5 L1931.8,1173.5 L1935.1,1181.7 L1938.1,1190.0 L1940.7,1198.4 L1942.9,1206.9 L1944.8,1215.5 L1946.2,1224.2 L1947.4,1233.0 C1948.5,1230.7 1953.0,1223.3 1955.8,1219.4 C1958.6,1215.5 1960.6,1212.2 1963.8,1209.7 C1967.0,1207.2 1972.0,1204.7 1975.1,1204.1 C1978.2,1203.5 1981.4,1204.0 1982.5,1206.0 C1983.6,1208.0 1982.9,1212.0 1981.6,1216.2 C1980.3,1220.4 1976.8,1225.9 1974.5,1231.0 C1972.2,1236.1 1969.0,1242.8 1967.5,1247.0 C1966.0,1251.2 1965.5,1252.3 1965.5,1256.0 C1965.5,1259.7 1965.9,1263.9 1967.5,1269.0 C1969.1,1274.1 1972.5,1280.8 1975.0,1286.4 C1977.5,1292.0 1980.9,1297.1 1982.5,1302.5 C1984.1,1307.9 1985.2,1313.6 1984.5,1318.6 C1983.8,1323.6 1981.8,1329.0 1978.3,1332.5 C1974.8,1336.0 1968.6,1339.3 1963.8,1339.8 C1959.0,1340.3 1953.4,1338.5 1949.3,1335.5 C1945.2,1332.5 1940.6,1324.1 1938.9,1321.8 L1934.2,1329.6 L1930.8,1337.8 L1927.0,1345.8 L1922.8,1353.7 L1918.4,1361.3 L1913.6,1368.8 L1908.4,1376.1 L1903.0,1383.1 L1897.3,1389.9 L1891.2,1396.4 L1884.9,1402.7 L1878.4,1408.7 L1871.5,1414.4 L1864.5,1419.7 L1857.2,1424.8 L1849.7,1429.6 L1842.0,1434.0 L1834.1,1438.1 L1826.0,1441.8 L1817.8,1445.2 L1809.5,1448.2 L1801.0,1450.9 L1792.4,1453.2 L1783.7,1455.1 L1775.0,1456.6 L1766.2,1457.8 L1757.3,1458.6 L1748.4,1459.0 L1739.6,1459.0 L1730.7,1458.6 L1721.8,1457.8 L1713.0,1456.6 L1704.3,1455.1 L1695.6,1453.2 L1687.0,1450.9 L1678.5,1448.2 L1670.2,1445.2 L1662.0,1441.8 L1653.9,1438.1 L1646.0,1434.0 L1638.3,1429.6 L1630.8,1424.8 L1623.5,1419.7 L1616.5,1414.4 L1609.6,1408.7 L1603.1,1402.7 L1596.8,1396.4 L1590.7,1389.9 L1585.0,1383.1 L1579.6,1376.1 L1574.4,1368.8 L1569.6,1361.3 L1565.2,1353.7 L1561.0,1345.8 L1557.2,1337.8 L1553.8,1329.6 L1550.7,1321.2 C1547.4,1324.1 1542.8,1332.5 1538.7,1335.5 C1534.6,1338.5 1529.0,1340.3 1524.2,1339.8 C1519.4,1339.3 1513.2,1336.0 1509.7,1332.5 C1506.2,1329.0 1504.2,1323.6 1503.5,1318.6 C1502.8,1313.6 1503.9,1307.9 1505.5,1302.5 C1507.1,1297.1 1510.5,1292.0 1513.0,1286.4 C1515.5,1280.8 1518.9,1274.1 1520.5,1269.0 C1522.1,1263.9 1522.5,1259.7 1522.5,1256.0 C1522.5,1252.3 1522.0,1251.2 1520.5,1247.0 C1519.0,1242.8 1515.8,1236.1 1513.5,1231.0 C1511.2,1225.9 1507.7,1220.4 1506.4,1216.2 C1505.1,1212.0 1504.4,1208.0 1505.5,1206.0 C1506.6,1204.0 1509.8,1203.5 1512.9,1204.1 C1516.0,1204.7 1521.0,1207.2 1524.2,1209.7 C1527.4,1212.2 1529.4,1215.5 1532.2,1219.4 C1535.0,1223.3 1539.5,1230.7 1541.0,1233.0 L1541.8,1224.2 L1543.3,1215.4 L1545.2,1206.8 L1547.4,1198.2 L1550.0,1189.7 L1553.0,1181.4 L1556.4,1173.1 L1560.1,1165.1 L1564.1,1157.2 L1568.5,1149.5 L1573.2,1142.0 L1578.3,1134.7 L1583.6,1127.6 L1589.3,1120.8 L1595.2,1114.2 L1601.5,1107.9 L1608.0,1101.8 L1614.7,1096.1 L1621.7,1090.6 L1628.9,1085.5 L1636.4,1080.6 L1644.0,1076.1 L1651.8,1072.0 L1659.8,1068.1 L1668.0,1064.7 L1676.3,1061.5 L1684.7,1058.8 L1693.3,1056.4 L1701.9,1054.4 L1710.6,1052.7 Z" fill="#e8e8e8" stroke="#111" stroke-width="2.9" stroke-linejoin="round"/>
<line x1="1744.0" y1="1056.5" x2="1744.0" y2="1459" stroke="#111" stroke-width="3.8"/>
<line x1="1540" y1="1255.8" x2="1948" y2="1255.8" stroke="#111" stroke-width="3.1"/>
<path d="M1692.0,1099.8 Q1744.0,1081 1796.0,1099.8" fill="none" stroke="#111" stroke-width="3.0"/>
<line x1="1692.0" y1="1099.8" x2="1646.6" y2="1122.8" stroke="#111" stroke-width="3.0"/>
<line x1="1796.0" y1="1099.8" x2="1841.4" y2="1122.8" stroke="#111" stroke-width="3.0"/>
<line x1="1646.6" y1="1122.8" x2="1607.5" y2="1158.8" stroke="#111" stroke-width="3.0"/>
<line x1="1841.4" y1="1122.8" x2="1880.5" y2="1158.8" stroke="#111" stroke-width="3.0"/>
<line x1="1607.5" y1="1158.8" x2="1642.7" y2="1165.6" stroke="#111" stroke-width="3.0"/>
<line x1="1880.5" y1="1158.8" x2="1845.3" y2="1165.6" stroke="#111" stroke-width="3.0"/>
<line x1="1642.7" y1="1165.6" x2="1676.4" y2="1171.3" stroke="#111" stroke-width="3.0"/>
<line x1="1845.3" y1="1165.6" x2="1811.6" y2="1171.3" stroke="#111" stroke-width="3.0"/>
<line x1="1676.4" y1="1171.3" x2="1711.6" y2="1174.0" stroke="#111" stroke-width="3.0"/>
<line x1="1811.6" y1="1171.3" x2="1776.4" y2="1174.0" stroke="#111" stroke-width="3.0"/>
<line x1="1711.6" y1="1174.0" x2="1744.0" y2="1174.0" stroke="#111" stroke-width="3.0"/>
<line x1="1776.4" y1="1174.0" x2="1744.0" y2="1174.0" stroke="#111" stroke-width="3.0"/>
<line x1="1607.5" y1="1158.8" x2="1587.0" y2="1201.6" stroke="#111" stroke-width="3.0"/>
<line x1="1880.5" y1="1158.8" x2="1901.0" y2="1201.6" stroke="#111" stroke-width="3.0"/>
<line x1="1642.7" y1="1165.6" x2="1626.5" y2="1208.7" stroke="#111" stroke-width="3.0"/>
<line x1="1845.3" y1="1165.6" x2="1861.5" y2="1208.7" stroke="#111" stroke-width="3.0"/>
<line x1="1676.4" y1="1171.3" x2="1666.0" y2="1212.6" stroke="#111" stroke-width="3.0"/>
<line x1="1811.6" y1="1171.3" x2="1822.0" y2="1212.6" stroke="#111" stroke-width="3.0"/>
<line x1="1676.4" y1="1171.3" x2="1694.7" y2="1136.6" stroke="#111" stroke-width="3.0"/>
<line x1="1811.6" y1="1171.3" x2="1793.3" y2="1136.6" stroke="#111" stroke-width="3.0"/>
<line x1="1694.7" y1="1136.6" x2="1744.0" y2="1133.0" stroke="#111" stroke-width="3.0"/>
<line x1="1793.3" y1="1136.6" x2="1744.0" y2="1133.0" stroke="#111" stroke-width="3.0"/>
<line x1="1548.5" y1="1189.8" x2="1587.0" y2="1201.6" stroke="#111" stroke-width="3.0"/>
<line x1="1939.5" y1="1189.8" x2="1901.0" y2="1201.6" stroke="#111" stroke-width="3.0"/>
<line x1="1587.0" y1="1201.6" x2="1626.5" y2="1208.7" stroke="#111" stroke-width="3.0"/>
<line x1="1901.0" y1="1201.6" x2="1861.5" y2="1208.7" stroke="#111" stroke-width="3.0"/>
<line x1="1626.5" y1="1208.7" x2="1666.0" y2="1212.6" stroke="#111" stroke-width="3.0"/>
<line x1="1861.5" y1="1208.7" x2="1822.0" y2="1212.6" stroke="#111" stroke-width="3.0"/>
<line x1="1666.0" y1="1212.6" x2="1705.1" y2="1213.5" stroke="#111" stroke-width="3.0"/>
<line x1="1822.0" y1="1212.6" x2="1782.9" y2="1213.5" stroke="#111" stroke-width="3.0"/>
<line x1="1705.1" y1="1213.5" x2="1744.0" y2="1214.5" stroke="#111" stroke-width="3.0"/>
<line x1="1782.9" y1="1213.5" x2="1744.0" y2="1214.5" stroke="#111" stroke-width="3.0"/>
<line x1="1587.0" y1="1201.6" x2="1576.5" y2="1255.8" stroke="#111" stroke-width="3.0"/>
<line x1="1901.0" y1="1201.6" x2="1911.5" y2="1255.8" stroke="#111" stroke-width="3.0"/>
<line x1="1626.5" y1="1208.7" x2="1618.4" y2="1255.8" stroke="#111" stroke-width="3.0"/>
<line x1="1861.5" y1="1208.7" x2="1869.6" y2="1255.8" stroke="#111" stroke-width="3.0"/>
<line x1="1666.0" y1="1212.6" x2="1659.5" y2="1255.8" stroke="#111" stroke-width="3.0"/>
<line x1="1822.0" y1="1212.6" x2="1828.5" y2="1255.8" stroke="#111" stroke-width="3.0"/>
<line x1="1705.1" y1="1213.5" x2="1701.4" y2="1255.8" stroke="#111" stroke-width="3.0"/>
<line x1="1782.9" y1="1213.5" x2="1786.6" y2="1255.8" stroke="#111" stroke-width="3.0"/>
<line x1="1576.5" y1="1255.8" x2="1587.0" y2="1309.7" stroke="#111" stroke-width="3.0"/>
<line x1="1911.5" y1="1255.8" x2="1901.0" y2="1309.7" stroke="#111" stroke-width="3.0"/>
<line x1="1618.4" y1="1255.8" x2="1626.5" y2="1302.5" stroke="#111" stroke-width="3.0"/>
<line x1="1869.6" y1="1255.8" x2="1861.5" y2="1302.5" stroke="#111" stroke-width="3.0"/>
<line x1="1659.5" y1="1255.8" x2="1665.9" y2="1300.1" stroke="#111" stroke-width="3.0"/>
<line x1="1828.5" y1="1255.8" x2="1822.1" y2="1300.1" stroke="#111" stroke-width="3.0"/>
<line x1="1701.4" y1="1255.8" x2="1705.4" y2="1298.5" stroke="#111" stroke-width="3.0"/>
<line x1="1786.6" y1="1255.8" x2="1782.6" y2="1298.5" stroke="#111" stroke-width="3.0"/>
<line x1="1549.1" y1="1321.8" x2="1587.0" y2="1309.7" stroke="#111" stroke-width="3.0"/>
<line x1="1938.9" y1="1321.8" x2="1901.0" y2="1309.7" stroke="#111" stroke-width="3.0"/>
<line x1="1587.0" y1="1309.7" x2="1626.5" y2="1302.5" stroke="#111" stroke-width="3.0"/>
<line x1="1901.0" y1="1309.7" x2="1861.5" y2="1302.5" stroke="#111" stroke-width="3.0"/>
<line x1="1626.5" y1="1302.5" x2="1665.9" y2="1300.1" stroke="#111" stroke-width="3.0"/>
<line x1="1861.5" y1="1302.5" x2="1822.1" y2="1300.1" stroke="#111" stroke-width="3.0"/>
<line x1="1665.9" y1="1300.1" x2="1705.4" y2="1298.5" stroke="#111" stroke-width="3.0"/>
<line x1="1822.1" y1="1300.1" x2="1782.6" y2="1298.5" stroke="#111" stroke-width="3.0"/>
<line x1="1705.4" y1="1298.5" x2="1744.0" y2="1296.8" stroke="#111" stroke-width="3.0"/>
<line x1="1782.6" y1="1298.5" x2="1744.0" y2="1296.8" stroke="#111" stroke-width="3.0"/>
<line x1="1587.0" y1="1309.7" x2="1607.9" y2="1353.2" stroke="#111" stroke-width="3.0"/>
<line x1="1901.0" y1="1309.7" x2="1880.1" y2="1353.2" stroke="#111" stroke-width="3.0"/>
<line x1="1626.5" y1="1302.5" x2="1642.6" y2="1346.0" stroke="#111" stroke-width="3.0"/>
<line x1="1861.5" y1="1302.5" x2="1845.4" y2="1346.0" stroke="#111" stroke-width="3.0"/>
<line x1="1665.9" y1="1300.1" x2="1676.4" y2="1341.1" stroke="#111" stroke-width="3.0"/>
<line x1="1822.1" y1="1300.1" x2="1811.6" y2="1341.1" stroke="#111" stroke-width="3.0"/>
<line x1="1705.4" y1="1298.5" x2="1711.8" y2="1340.3" stroke="#111" stroke-width="3.0"/>
<line x1="1782.6" y1="1298.5" x2="1776.2" y2="1340.3" stroke="#111" stroke-width="3.0"/>
<line x1="1607.9" y1="1353.2" x2="1642.6" y2="1346.0" stroke="#111" stroke-width="3.0"/>
<line x1="1880.1" y1="1353.2" x2="1845.4" y2="1346.0" stroke="#111" stroke-width="3.0"/>
<line x1="1642.6" y1="1346.0" x2="1676.4" y2="1341.1" stroke="#111" stroke-width="3.0"/>
<line x1="1845.4" y1="1346.0" x2="1811.6" y2="1341.1" stroke="#111" stroke-width="3.0"/>
<line x1="1676.4" y1="1341.1" x2="1711.8" y2="1340.3" stroke="#111" stroke-width="3.0"/>
<line x1="1811.6" y1="1341.1" x2="1776.2" y2="1340.3" stroke="#111" stroke-width="3.0"/>
<line x1="1711.8" y1="1340.3" x2="1744.0" y2="1337.9" stroke="#111" stroke-width="3.0"/>
<line x1="1776.2" y1="1340.3" x2="1744.0" y2="1337.9" stroke="#111" stroke-width="3.0"/>
<line x1="1607.9" y1="1353.2" x2="1646.6" y2="1388.7" stroke="#111" stroke-width="3.0"/>
<line x1="1880.1" y1="1353.2" x2="1841.4" y2="1388.7" stroke="#111" stroke-width="3.0"/>
<line x1="1646.6" y1="1388.7" x2="1691.7" y2="1412.0" stroke="#111" stroke-width="3.0"/>
<line x1="1841.4" y1="1388.7" x2="1796.3" y2="1412.0" stroke="#111" stroke-width="3.0"/>
<line x1="1691.7" y1="1412.0" x2="1744.0" y2="1420.9" stroke="#111" stroke-width="3.0"/>
<line x1="1796.3" y1="1412.0" x2="1744.0" y2="1420.9" stroke="#111" stroke-width="3.0"/>
<line x1="1676.4" y1="1341.1" x2="1694.9" y2="1375.8" stroke="#111" stroke-width="3.0"/>
<line x1="1811.6" y1="1341.1" x2="1793.1" y2="1375.8" stroke="#111" stroke-width="3.0"/>
<circle cx="1692.0" cy="1099.8" r="12.0" fill="#fff" stroke="#111" stroke-width="2.9"/>
<circle cx="1796.0" cy="1099.8" r="12.0" fill="#fff" stroke="#111" stroke-width="2.9"/>
<circle cx="1646.6" cy="1122.8" r="12.0" fill="#fff" stroke="#111" stroke-width="2.9"/>
<circle cx="1841.4" cy="1122.8" r="12.0" fill="#fff" stroke="#111" stroke-width="2.9"/>
<circle cx="1694.7" cy="1136.6" r="12.0" fill="#fff" stroke="#111" stroke-width="2.9"/>
<circle cx="1793.3" cy="1136.6" r="12.0" fill="#fff" stroke="#111" stroke-width="2.9"/>
<circle cx="1607.5" cy="1158.8" r="12.0" fill="#fff" stroke="#111" stroke-width="2.9"/>
<circle cx="1880.5" cy="1158.8" r="12.0" fill="#fff" stroke="#111" stroke-width="2.9"/>
<circle cx="1642.7" cy="1165.6" r="12.0" fill="#fff" stroke="#111" stroke-width="2.9"/>
<circle cx="1845.3" cy="1165.6" r="12.0" fill="#fff" stroke="#111" stroke-width="2.9"/>
<circle cx="1676.4" cy="1171.3" r="12.0" fill="#fff" stroke="#111" stroke-width="2.9"/>
<circle cx="1811.6" cy="1171.3" r="12.0" fill="#fff" stroke="#111" stroke-width="2.9"/>
<circle cx="1711.6" cy="1174.0" r="13.4" fill="#000"/>
<circle cx="1776.4" cy="1174.0" r="13.4" fill="#000"/>
<circle cx="1548.5" cy="1189.8" r="12.0" fill="#fff" stroke="#111" stroke-width="2.9"/>
<circle cx="1939.5" cy="1189.8" r="12.0" fill="#fff" stroke="#111" stroke-width="2.9"/>
<circle cx="1587.0" cy="1201.6" r="12.0" fill="#fff" stroke="#111" stroke-width="2.9"/>
<circle cx="1901.0" cy="1201.6" r="12.0" fill="#fff" stroke="#111" stroke-width="2.9"/>
<circle cx="1626.5" cy="1208.7" r="12.0" fill="#fff" stroke="#111" stroke-width="2.9"/>
<circle cx="1861.5" cy="1208.7" r="12.0" fill="#fff" stroke="#111" stroke-width="2.9"/>
<circle cx="1666.0" cy="1212.6" r="12.0" fill="#fff" stroke="#111" stroke-width="2.9"/>
<circle cx="1822.0" cy="1212.6" r="12.0" fill="#fff" stroke="#111" stroke-width="2.9"/>
<circle cx="1705.1" cy="1213.5" r="13.4" fill="#000"/>
<circle cx="1782.9" cy="1213.5" r="13.4" fill="#000"/>
<circle cx="1576.5" cy="1255.8" r="12.0" fill="#fff" stroke="#111" stroke-width="2.9"/>
<circle cx="1911.5" cy="1255.8" r="12.0" fill="#fff" stroke="#111" stroke-width="2.9"/>
<circle cx="1618.4" cy="1255.8" r="12.0" fill="#fff" stroke="#111" stroke-width="2.9"/>
<circle cx="1869.6" cy="1255.8" r="12.0" fill="#fff" stroke="#111" stroke-width="2.9"/>
<circle cx="1659.5" cy="1255.8" r="12.0" fill="#fff" stroke="#111" stroke-width="2.9"/>
<circle cx="1828.5" cy="1255.8" r="12.0" fill="#fff" stroke="#111" stroke-width="2.9"/>
<circle cx="1701.4" cy="1255.8" r="12.0" fill="#fff" stroke="#111" stroke-width="2.9"/>
<circle cx="1786.6" cy="1255.8" r="12.0" fill="#fff" stroke="#111" stroke-width="2.9"/>
<circle cx="1549.1" cy="1321.8" r="12.0" fill="#fff" stroke="#111" stroke-width="2.9"/>
<circle cx="1938.9" cy="1321.8" r="12.0" fill="#fff" stroke="#111" stroke-width="2.9"/>
<circle cx="1587.0" cy="1309.7" r="12.0" fill="#fff" stroke="#111" stroke-width="2.9"/>
<circle cx="1901.0" cy="1309.7" r="12.0" fill="#fff" stroke="#111" stroke-width="2.9"/>
<circle cx="1626.5" cy="1302.5" r="12.0" fill="#fff" stroke="#111" stroke-width="2.9"/>
<circle cx="1861.5" cy="1302.5" r="12.0" fill="#fff" stroke="#111" stroke-width="2.9"/>
<circle cx="1665.9" cy="1300.1" r="12.0" fill="#fff" stroke="#111" stroke-width="2.9"/>
<circle cx="1822.1" cy="1300.1" r="12.0" fill="#fff" stroke="#111" stroke-width="2.9"/>
<circle cx="1705.4" cy="1298.5" r="12.0" fill="#fff" stroke="#111" stroke-width="2.9"/>
<circle cx="1782.6" cy="1298.5" r="12.0" fill="#fff" stroke="#111" stroke-width="2.9"/>
<circle cx="1607.9" cy="1353.2" r="12.0" fill="#fff" stroke="#111" stroke-width="2.9"/>
<circle cx="1880.1" cy="1353.2" r="12.0" fill="#fff" stroke="#111" stroke-width="2.9"/>
<circle cx="1642.6" cy="1346.0" r="12.0" fill="#fff" stroke="#111" stroke-width="2.9"/>
<circle cx="1845.4" cy="1346.0" r="12.0" fill="#fff" stroke="#111" stroke-width="2.9"/>
<circle cx="1676.4" cy="1341.1" r="12.0" fill="#fff" stroke="#111" stroke-width="2.9"/>
<circle cx="1811.6" cy="1341.1" r="12.0" fill="#fff" stroke="#111" stroke-width="2.9"/>
<circle cx="1711.8" cy="1340.3" r="12.0" fill="#fff" stroke="#111" stroke-width="2.9"/>
<circle cx="1776.2" cy="1340.3" r="12.0" fill="#fff" stroke="#111" stroke-width="2.9"/>
<circle cx="1694.9" cy="1375.8" r="12.0" fill="#fff" stroke="#111" stroke-width="2.9"/>
<circle cx="1793.1" cy="1375.8" r="12.0" fill="#fff" stroke="#111" stroke-width="2.9"/>
<circle cx="1646.6" cy="1388.7" r="12.0" fill="#fff" stroke="#111" stroke-width="2.9"/>
<circle cx="1841.4" cy="1388.7" r="12.0" fill="#fff" stroke="#111" stroke-width="2.9"/>
<circle cx="1691.7" cy="1412.0" r="12.0" fill="#fff" stroke="#111" stroke-width="2.9"/>
<circle cx="1796.3" cy="1412.0" r="12.0" fill="#fff" stroke="#111" stroke-width="2.9"/>
<circle cx="1744.0" cy="1133.0" r="12.0" fill="#fff" stroke="#111" stroke-width="2.9"/>
<circle cx="1744.0" cy="1174.0" r="13.4" fill="#000"/>
<circle cx="1744.0" cy="1214.5" r="13.4" fill="#000"/>
<circle cx="1744.0" cy="1255.8" r="12.0" fill="#fff" stroke="#111" stroke-width="2.9"/>
<circle cx="1744.0" cy="1296.8" r="12.0" fill="#fff" stroke="#111" stroke-width="2.9"/>
<circle cx="1744.0" cy="1337.9" r="12.0" fill="#fff" stroke="#111" stroke-width="2.9"/>
<circle cx="1744.0" cy="1379.8" r="12.0" fill="#fff" stroke="#111" stroke-width="2.9"/>
<circle cx="1744.0" cy="1420.9" r="12.0" fill="#fff" stroke="#111" stroke-width="2.9"/>
</g>
</svg>
</body></html>
